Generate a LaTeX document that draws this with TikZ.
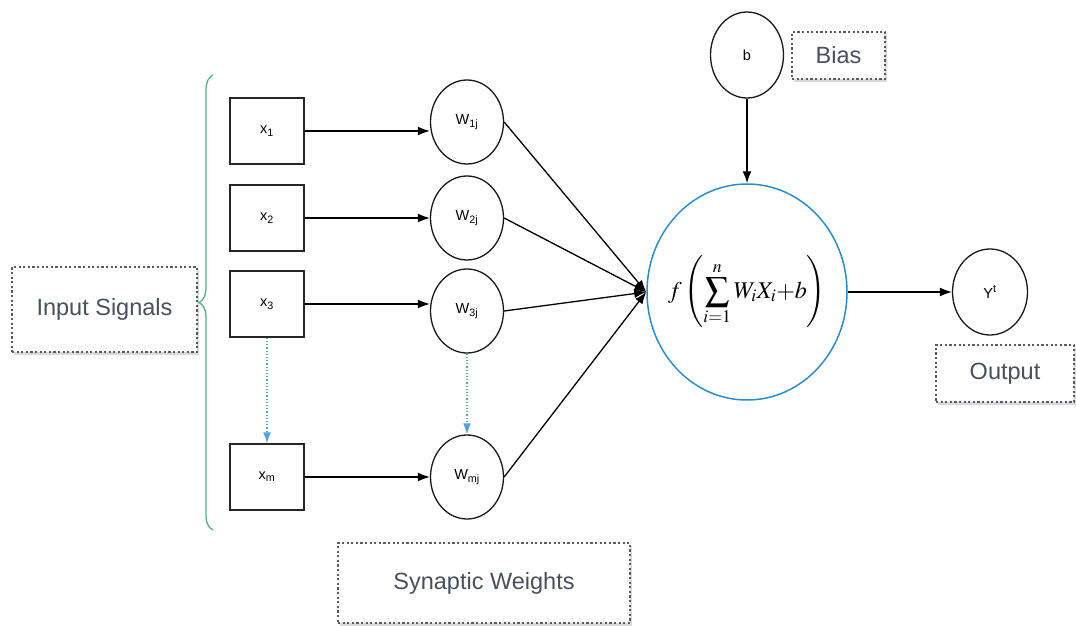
\documentclass[tikz,border=0pt]{standalone}
\usepackage{mathptmx}
\usepackage[no-math]{fontspec}
\setmainfont{Liberation Sans}
\usetikzlibrary{arrows.meta,decorations.pathreplacing,shadows,shapes.geometric}
\definecolor{nblue}{RGB}{40,140,205}
\definecolor{nteal}{RGB}{80,175,145}
\definecolor{lbl}{RGB}{72,80,92}
\definecolor{dotc}{RGB}{85,90,100}
\tikzset{
  inbox/.style={draw=black!85,line width=1.4pt,minimum width=74pt,minimum height=66pt,inner sep=0pt,font=\fontsize{14.5}{16}\selectfont},
  wnode/.style={draw=black!90,ellipse,line width=1.3pt,minimum width=73pt,minimum height=84pt,inner sep=0pt,font=\fontsize{14.5}{16}\selectfont},
  sumnode/.style={draw=nblue,ellipse,line width=1.5pt,minimum width=200pt,minimum height=216pt,inner sep=0pt},
  formula/.style={inner sep=0pt,font=\fontsize{24}{28}\selectfont},
  lblbox/.style={draw=dotc,dash pattern=on 2.2pt off 2.4pt,line width=2.4pt,fill=white,inner sep=0pt,text=lbl,font=\fontsize{23.5}{26}\selectfont,drop shadow={shadow xshift=2pt,shadow yshift=-3pt,opacity=0.15,fill=black}},
  arr/.style={line width=1.3pt,-{Latex[length=12pt,width=9pt]}},
  bluearr/.style={nblue!80,line width=1.2pt,dotted,-{Latex[length=11pt,width=8pt]}},
}
\begin{document}
\begin{tikzpicture}[x=1pt,y=-1pt]
\useasboundingbox (0,0) rectangle (1076,626);
% input boxes
\node[inbox] (x1) at (267,131) {x\textsubscript{1}};
\node[inbox] (x2) at (267,218) {x\textsubscript{2}};
\node[inbox] (x3) at (267,304) {x\textsubscript{3}};
\node[inbox] (xm) at (267,477) {x\textsubscript{m}};
% weights
\node[wnode] (w1) at (467,122) {W\textsubscript{1j}};
\node[wnode] (w2) at (467,218) {W\textsubscript{2j}};
\node[wnode] (w3) at (467,311) {W\textsubscript{3j}};
\node[wnode] (wm) at (467,477) {W\textsubscript{mj}};
% summation
\node[sumnode] (s) at (747,292) {};
\node[formula] (fx) at (s.center) {$\displaystyle f\left(\sum_{i=1}^{n} W_i X_i {+} b\right)$};
\node[wnode,minimum height=86pt,minimum width=73pt] (b) at (747,55) {b};
\node[wnode,minimum height=86pt,minimum width=75pt] (y) at (990,292) {Y\textsuperscript{t}};
% label boxes
\node[lblbox,minimum width=185pt,minimum height=85pt] (inl) at (104.5,309.5) {Input Signals};
\node[lblbox,minimum width=292pt,minimum height=80pt] (syn) at (484,583) {Synaptic Weights};
\node[lblbox,minimum width=93pt,minimum height=47pt] (bias) at (838.5,55.5) {Bias};
\node[lblbox,minimum width=138pt,minimum height=57pt] (out) at (1005,373.5) {Output};
% brace
\draw[nteal,line width=1.3pt,decorate,decoration={brace,amplitude=14pt}] (213,530) -- (213,75);
% arrows
\foreach \a/\c in {x1/w1,x2/w2,x3/w3,xm/wm} \draw[arr] (\a.east) -- (\c.west |- \a.east);
\foreach \a in {w1,w2,w3,wm} \draw[arr] (\a.east) -- (s.west);
\draw[arr] (b.south) -- (s.north);
\draw[arr] (s.east) -- (y.west);
\draw[bluearr] (x3.south) -- (xm.north);
\draw[bluearr] (w3.south) -- (wm.north);
\end{tikzpicture}
\end{document}
